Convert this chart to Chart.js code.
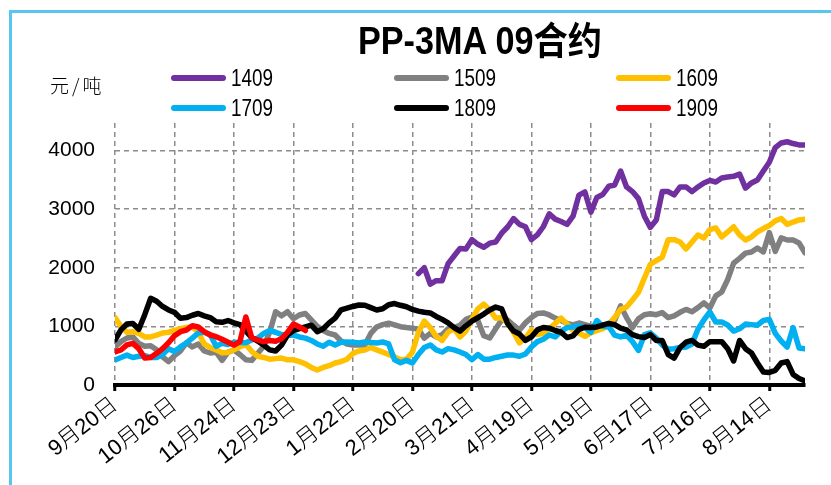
<!DOCTYPE html>
<html>
<head>
<meta charset="utf-8">
<script src="https://cdn.jsdelivr.net/npm/chart.js@4.4.1/dist/chart.umd.min.js"></script>
<style>
  body { margin: 0; background: #fff; }
  #wrap { position: relative; width: 831px; height: 485px; overflow: hidden; }
  #frame { position: absolute; left: 9px; top: 10px; width: 900px; height: 600px;
           border-left: 3px solid #5bc5f2; border-top: 3px solid #5bc5f2; }
  #title { position: absolute; left: 358px; top: 22px; white-space: nowrap;
           font: bold 38px/38px "Liberation Sans", "Noto Sans CJK SC", sans-serif; color: #000;
           transform: scaleX(0.9); transform-origin: left center; }
  #unit { position: absolute; left: 50px; top: 74px; letter-spacing: 3px;
          font: 300 19px/22px "Noto Sans CJK SC", sans-serif; color: #000; }
  .leg { position: absolute; display: flex; align-items: center; height: 24px;
         font: 23px/24px "Liberation Sans", sans-serif; color: #000; }
  .leg span { display: inline-block; width: 55px; height: 6px; border-radius: 3px; margin-right: 5px; }
  .leg b { font-weight: normal; display: inline-block; transform: scaleX(0.82); transform-origin: left center; }
  canvas { position: absolute; left: 0; top: 0; }
</style>
</head>
<body>
<div id="wrap">
  <div id="frame"></div>
  <canvas id="chart" width="831" height="485"></canvas>
  <div id="title">PP-3MA 09合约</div>
  <div id="unit">元/吨</div>
</div>
<script>
// tick labels on the x axis, one every 10 trading days
const dateTicks = ['9月20日', '10月26日', '11月24日', '12月23日', '1月22日', '2月20日',
                   '3月21日', '4月19日', '5月19日', '6月17日', '7月16日', '8月14日'];
const yTicks = [0, 1000, 2000, 3000, 4000];

// 3-day moving average, 元/吨
const s1409 = Array(51).fill(null).concat([
  1900, 2000, 1720, 1780, 1780, 2070, 2200, 2330, 2320,
  2480, 2400, 2350, 2420, 2440, 2590, 2696, 2840, 2740, 2700,
  2480, 2560, 2700, 2920, 2830, 2790, 2740, 2880, 3240, 3294,
  2950, 3200, 3250, 3390, 3413, 3650, 3379, 3300, 3180, 2880,
  2690, 2816, 3300, 3300, 3242, 3379, 3379, 3300, 3379, 3447,
  3490, 3464, 3533, 3550, 3560, 3600, 3360, 3447, 3498, 3650,
  3800, 4050, 4130, 4150, 4120, 4096, 4096]);

const s1509 = [
  648, 740, 802, 819, 710, 660, 670, 600, 480, 400,
  500, 580, 720, 650, 700, 580, 546, 560, 420, 560,
  597, 520, 430, 420, 540, 660, 900, 1250, 1180, 1250,
  1130, 1195, 1220, 1110, 1000, 930, 880, 853, 750, 700,
  683, 683, 683, 880, 990, 1030, 1055, 1024, 995, 980,
  970, 950, 800, 880, 820, 860, 960, 980, 1020, 1120,
  1160, 1100, 840, 802, 960, 1110, 1110, 1020, 938, 1060,
  1150, 1220, 1230, 1195, 1140, 1100, 1050, 1024, 1058, 1030,
  1000, 990, 980, 1000, 1100, 1350, 1150, 980, 1130, 1200,
  1215, 1200, 1235, 1150, 1180, 1240, 1290, 1250, 1320, 1400,
  1314, 1520, 1587, 1800, 2080, 2160, 2250, 2270, 2338, 2270,
  2600, 2280, 2509, 2474, 2474, 2423, 2253];

const s1609 = [
  1150, 1000, 900, 910, 880, 820, 820, 850, 887, 900,
  930, 960, 980, 990, 900, 700, 640, 600, 550, 555,
  600, 650, 690, 570, 490, 470, 440, 450, 460, 430,
  430, 400, 360, 300, 256, 300, 330, 375, 400, 440,
  540, 580, 597, 640, 600, 560, 520, 480, 430, 440,
  560, 900, 1090, 980, 830, 760, 900, 960, 820, 920,
  1120, 1300, 1380, 1280, 1140, 1150, 1060, 900, 720, 800,
  938, 860, 880, 960, 1050, 1140, 1040, 930, 887, 830,
  890, 930, 960, 1040, 1150, 1290, 1330, 1450, 1580, 1826,
  2060, 2120, 2180, 2480, 2480, 2440, 2320, 2440, 2560, 2509,
  2650, 2680, 2526, 2611, 2700, 2560, 2474, 2526, 2611, 2670,
  2720, 2800, 2840, 2740, 2780, 2816, 2830];

const s1709 = [
  427, 470, 510, 470, 490, 500, 470, 470, 520, 620,
  570, 650, 717, 800, 887, 900, 860, 660, 710, 690,
  730, 725, 720, 770, 800, 880, 930, 900, 860, 850,
  850, 820, 800, 760, 700, 660, 730, 683, 730, 734,
  730, 717, 734, 725, 717, 734, 700, 430, 380, 420,
  375, 520, 640, 683, 600, 563, 620, 600, 563, 520,
  430, 520, 440, 440, 470, 490, 512, 510, 490, 530,
  648, 740, 780, 853, 820, 920, 980, 990, 1010, 980,
  900, 1100, 1000, 1000, 850, 820, 850, 740, 590, 860,
  887, 802, 683, 610, 620, 640, 648, 700, 950, 1110,
  1245, 1075, 1075, 1024, 920, 960, 1040, 1030, 1020, 1100,
  1120, 880, 750, 648, 980, 631, 620];

const s1809 = [
  768, 940, 1040, 1050, 950, 1200, 1480, 1430, 1340, 1280,
  1240, 1140, 1150, 1190, 1220, 1180, 1150, 1080, 1070, 1100,
  1060, 1030, 920, 810, 750, 680, 600, 580, 680, 850,
  930, 960, 990, 1020, 910, 960, 1060, 1140, 1280, 1310,
  1340, 1365, 1360, 1320, 1280, 1300, 1370, 1390, 1360, 1335,
  1290, 1260, 1240, 1230, 1170, 1120, 1060, 980, 920, 1010,
  1090, 1150, 1210, 1280, 1330, 1300, 1050, 920, 870, 760,
  820, 940, 980, 970, 930, 900, 810, 840, 950, 985,
  980, 990, 1020, 1050, 1030, 970, 940, 860, 825, 810,
  860, 760, 760, 520, 460, 640, 730, 760, 680, 660,
  740, 740, 740, 620, 410, 760, 620, 546, 375, 220,
  215, 250, 375, 400, 180, 110, 70];

const s1909 = [
  563, 597, 683, 710, 620, 460, 470, 540, 620, 720,
  840, 910, 938, 1010, 990, 910, 853, 825, 780, 730,
  680, 740, 1160, 800, 768, 740, 760, 745, 790, 900,
  1040, 990, 930];

const series = [
  { name: '1409', values: s1409, color: '#7030a0' },
  { name: '1509', values: s1509, color: '#808080' },
  { name: '1609', values: s1609, color: '#ffc000' },
  { name: '1709', values: s1709, color: '#00b0f0' },
  { name: '1809', values: s1809, color: '#000000' },
  { name: '1909', values: s1909, color: '#ff0000' }
];

// legend, two rows of three
const legendCols = [171, 394, 616];
const legendRows = [66, 96];
series.forEach((s, k) => {
  const el = document.createElement('div');
  el.className = 'leg';
  el.style.left = legendCols[k % 3] + 'px';
  el.style.top = legendRows[Math.floor(k / 3)] + 'px';
  el.innerHTML = '<span style="background:' + s.color + '"></span><b>' + s.name + '</b>';
  document.getElementById('wrap').appendChild(el);
});

const gridColor = '#8c8c8c';

new Chart(document.getElementById('chart'), {
  type: 'line',
  data: {
    datasets: series.map((s, k) => ({
      label: s.name,
      data: s.values.map((v, i) => ({ x: i, y: v })),
      borderColor: s.color,
      backgroundColor: s.color,
      borderWidth: 5.5,
      borderJoinStyle: 'round',
      borderCapStyle: 'round',
      pointRadius: 0,
      tension: 0,
      spanGaps: false,
      order: series.length - k   // later contracts drawn on top
    }))
  },
  options: {
    responsive: false,
    animation: false,
    events: [],
    layout: { padding: { top: 123, right: 26, bottom: 0, left: 0 } },
    plugins: { legend: { display: false }, title: { display: false }, tooltip: { enabled: false } },
    scales: {
      x: {
        type: 'linear',
        min: 0,
        max: 116,
        afterBuildTicks: s => { s.ticks = dateTicks.map((_, k) => ({ value: k * 10 })); },
        afterFit: s => { s.height = 100; },
        border: { display: true, color: '#000', width: 4, dash: [5, 4] },
        grid: { color: gridColor, lineWidth: 1.5, drawTicks: true, tickLength: 6,
                tickColor: '#000', tickWidth: 3, tickBorderDash: [] },
        ticks: {
          autoSkip: false,
          minRotation: 38,
          maxRotation: 38,
          padding: 1,
          color: '#000',
          font: { family: "'Liberation Sans', 'Noto Sans CJK SC'", size: 22, weight: 300 },
          callback: v => dateTicks[v / 10]
        }
      },
      y: {
        min: 0,
        max: 4470,
        afterBuildTicks: s => { s.ticks = yTicks.map(v => ({ value: v })); },
        afterFit: s => { s.width = 115; },
        border: { display: false, dash: [5, 4] },
        grid: { color: gridColor, lineWidth: 1.5, drawTicks: false },
        ticks: {
          padding: 20,
          color: '#000',
          font: { family: "'Liberation Sans'", size: 21 },
          callback: v => String(v)
        }
      }
    }
  }
});
</script>
</body>
</html>
